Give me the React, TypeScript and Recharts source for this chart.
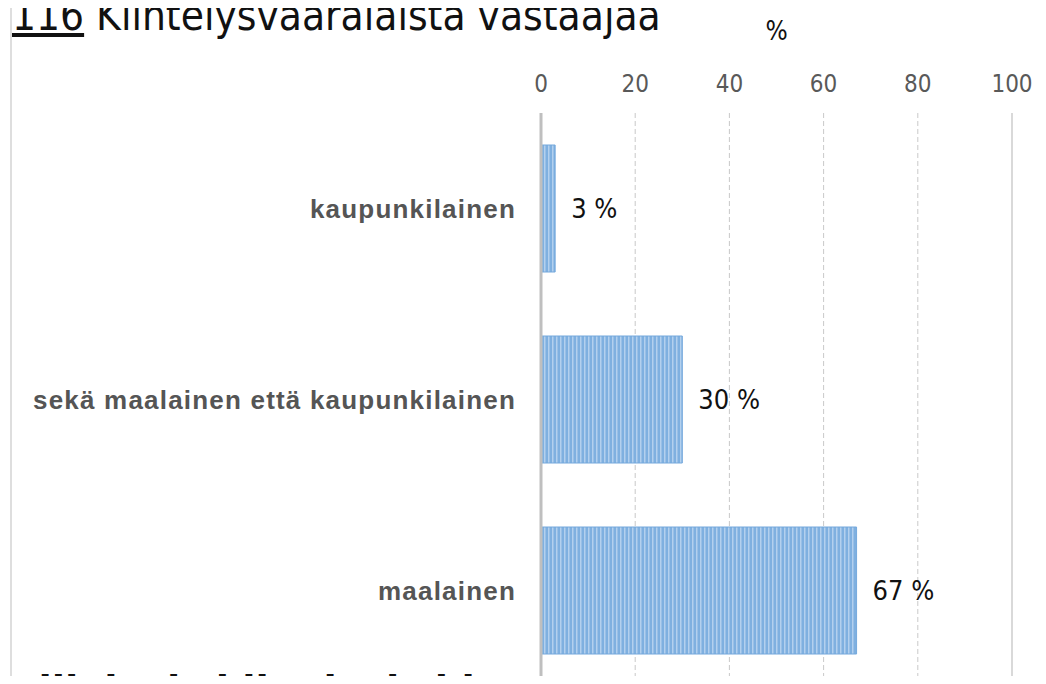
import { BarChart, Bar, XAxis, YAxis, CartesianGrid, ReferenceLine, LabelList, Label } from 'recharts';

const categories = ['kaupunkilainen', 'sekä maalainen että kaupunkilainen', 'maalainen'];
const shares = [3, 30, 67];
const axisTicks = [0, 20, 40, 60, 80, 100];

const data = categories.map((name, i) => ({ name, value: shares[i] }));

const NARROW = "'Liberation Sans Narrow', 'DejaVu Sans Condensed', sans-serif";

const CategoryTick = (props: any) => {
    const { x, y, payload } = props;
    return (
        <text x={x} y={y} dy={9} textAnchor="end" fill="#555"
            fontFamily="'Liberation Sans', Arial, sans-serif" fontWeight="bold"
            fontSize={26} letterSpacing={1.2}>
            {payload.value}
        </text>
    );
};

export default function App() {
    return (
        <div style={{ position: 'relative', width: 1046, height: 684, margin: -8, overflow: 'hidden', background: '#fff' }}>
            {/* slide frame line */}
            <div style={{ position: 'absolute', left: 10, top: 0, width: 2, height: 684, background: '#dedede' }} />

            <div style={{ position: 'absolute', left: 12, top: -9, fontFamily: NARROW, fontSize: 42, color: '#111', whiteSpace: 'nowrap' }}>
                <span style={{ textDecoration: 'underline' }}>116</span> Kiihtelysvaaralaista vastaajaa
            </div>

            <div style={{ position: 'absolute', left: 0, top: 667, width: 538, overflow: 'hidden', fontFamily: NARROW, fontSize: 43, fontWeight: 'bold', color: '#111', whiteSpace: 'nowrap' }}>
                Millaiseksi ihmiseksi koet itsesi?
            </div>

            <div style={{ position: 'absolute', left: 0, top: 0 }}>
                <BarChart width={1046} height={700} data={data} layout="vertical"
                    margin={{ top: 73, right: 34, left: 0, bottom: 14 }} barSize={127}>
                    <defs>
                        <pattern id="stripes" width="4" height="10" patternUnits="userSpaceOnUse">
                            <rect width="4" height="10" fill="#7fb0e0" />
                            <rect width="1.5" height="10" fill="#b3d0ee" />
                        </pattern>
                    </defs>
                    <CartesianGrid horizontal={false} stroke="#c9c9c9" strokeDasharray="5 3" />
                    <ReferenceLine x={100} stroke="#d9d9d9" strokeWidth={2} />
                    <XAxis type="number" orientation="top" domain={[0, 100]} ticks={axisTicks}
                        height={40} axisLine={false} tickLine={false} tickSize={0} tickMargin={21}
                        tick={{ fill: '#595959', fontSize: 24, fontFamily: NARROW }}>
                        <Label value="%" position="top" offset={33} fill="#111" fontSize={26} fontFamily={NARROW} />
                    </XAxis>
                    <YAxis type="category" dataKey="name" width={541} axisLine={{ stroke: '#bfbfbf', strokeWidth: 3 }}
                        tickLine={false} tickSize={0} tickMargin={25} tick={<CategoryTick />} interval={0} />
                    <Bar dataKey="value" fill="url(#stripes)" stroke="#74a8dc" strokeWidth={1} isAnimationActive={false}>
                        <LabelList dataKey="value" position="right" offset={16} formatter={(v: any) => `${v} %`}
                            fill="#111" fontSize={27} fontFamily={NARROW} />
                    </Bar>
                </BarChart>
            </div>
        </div>
    );
}
